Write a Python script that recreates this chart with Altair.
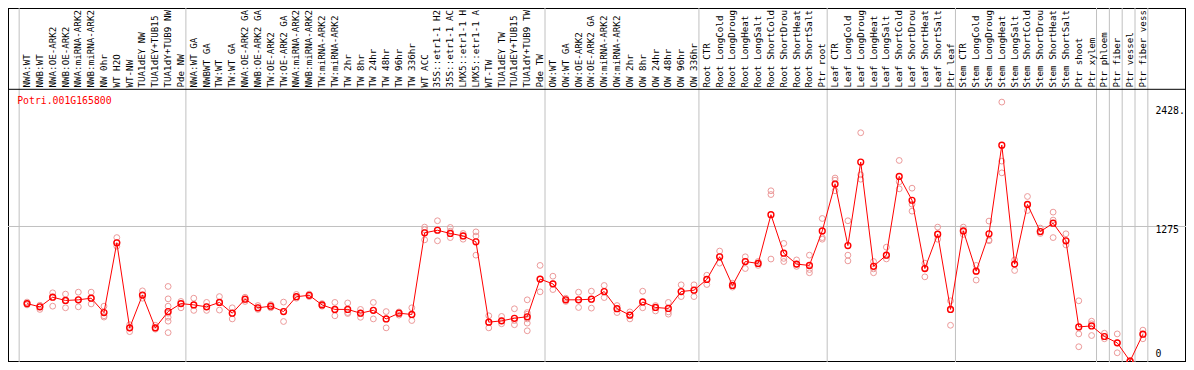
import altair as alt
import pandas as pd

gene_id = "Potri.001G165800"

labels = [
    "NWA:WT", "NWB:WT", "NWA:OE-ARK2", "NWB:OE-ARK2", "NWA:miRNA-ARK2", "NWB:miRNA-ARK2",
    "NW 0hr", "WT H2O", "WT-NW", "TUA1dEY NW", "TUA1dEY+TUB15", "TUA1dY+TUB9 NW", "Pde NW",
    "NWA:WT GA", "NWBWT GA", "TW:WT", "TW:WT GA", "NWA:OE-ARK2 GA", "NWB:OE-ARK2 GA",
    "TW:OE-ARK2", "TW:OE-ARK2 GA", "NWA:miRNA-ARK2", "NWB:miRNA-ARK2", "TW:miRNA-ARK2",
    "TW:miRNA-ARK2", "TW 2hr", "TW 8hr", "TW 24hr", "TW 48hr", "TW 96hr", "TW 336hr",
    "WT ACC", "35S::etr1-1 H2", "35S::etr1-1 AC", "LMX5::etr1-1 H", "LMX5::etr1-1 A",
    "WT-TW", "TUA1dEY TW", "TUA1dEY+TUB15", "TUA1dY+TUB9 TW", "Pde TW",
    "OW:WT", "OW:WT GA", "OW:OE-ARK2", "OW:OE-ARK2 GA", "OW:miRNA-ARK2", "OW:miRNA-ARK2",
    "OW 2hr", "OW 8hr", "OW 24hr", "OW 48hr", "OW 96hr", "OW 336hr",
    "Root CTR", "Root LongCold", "Root LongDroug", "Root LongHeat", "Root LongSalt",
    "Root ShortCold", "Root ShortDrou", "Root ShortHeat", "Root ShortSalt", "Ptr root",
    "Leaf CTR", "Leaf LongCold", "Leaf LongDroug", "Leaf LongHeat", "Leaf LongSalt",
    "Leaf ShortCold", "Leaf ShortDrou", "Leaf ShortHeat", "Leaf ShortSalt", "Ptr leaf",
    "Stem CTR", "Stem LongCold", "Stem LongDroug", "Stem LongHeat", "Stem LongSalt",
    "Stem ShortCold", "Stem ShortDrou", "Stem ShortHeat", "Stem ShortSalt",
    "Ptr shoot", "Ptr xylem", "Ptr phloem", "Ptr fiber", "Ptr vessel", "Ptr fiber vess",
]

means = [
    560, 530, 619, 589, 595, 610, 477, 1124, 335, 639, 335, 486, 560,
    548, 530, 571, 471, 601, 521, 536, 486, 624, 637, 548, 506, 506, 471, 498, 418, 471, 459,
    1216, 1240, 1210, 1187, 1133, 388, 400, 424, 438, 787,
    743, 595, 595, 601, 672, 513, 453, 575, 524, 515, 672, 684,
    784, 994, 728, 950, 932, 1384, 1027, 926, 914, 1234,
    1668, 1098, 1872, 906, 1009, 1739, 1518, 885, 1204, 506,
    1234, 861, 1207, 2029, 926, 1479, 1228, 1305, 1142,
    344, 353, 255, 196, 27, 276,
]

replicates = [
    [574, 560, 548], [545, 530, 506], [660, 619, 536], [648, 589, 521], [666, 595, 530],
    [666, 610, 557], [536, 447, 435], [1172, 1124, 1092], [364, 335, 300], [678, 639, 610],
    [359, 335, 323], [719, 604, 536, 471, 433, 397, 291], [580, 560, 521],
    [610, 548, 497], [571, 530, 497], [625, 571, 500], [521, 471, 418], [619, 601, 580],
    [542, 521, 506], [551, 536, 521], [574, 486, 394], [645, 625, 610], [648, 637, 625],
    [560, 548, 536], [571, 506, 447], [566, 477, 468], [506, 471, 433], [571, 497, 418],
    [486, 418, 335], [483, 471, 453], [521, 459, 403],
    [1269, 1245, 1151], [1328, 1245, 1142], [1266, 1231, 1172], [1210, 1186, 1157],
    [1225, 1186, 1009], [447, 388, 335], [441, 400, 373], [512, 403, 364],
    [595, 477, 462, 418, 379, 308], [914, 787, 669],
    [814, 743, 690], [610, 595, 580], [666, 595, 524], [675, 601, 518], [728, 672, 616],
    [542, 512, 477], [483, 453, 418], [675, 574, 521], [542, 524, 492], [571, 483, 462],
    [734, 672, 625], [734, 684, 625],
    [823, 784, 737], [1047, 994, 935], [749, 728, 713], [994, 950, 885], [950, 932, 914],
    [1606, 1571, 973], [1118, 979, 950], [965, 926, 905], [1009, 876, 846], [1349, 1172, 1157],
    [1724, 1704, 1606], [1328, 1009, 956], [2144, 1754, 1713], [950, 882, 846], [1083, 1009, 974],
    [1887, 1689, 1624], [1630, 1482, 1417], [935, 891, 808], [1269, 1204, 1157], [586, 506, 359],
    [1269, 1234, 1201], [914, 861, 778], [1325, 1151, 1142], [2428, 1881, 1772], [965, 926, 867],
    [1553, 1479, 1423], [1260, 1228, 1210], [1408, 1334, 1172], [1207, 1142, 1104],
    [586, 279, 160], [397, 373, 264], [285, 255, 234], [279, 196, 104], [20, 27, 33],
    [314, 276, 234],
]

# index of the last sample in each group (-1 = left edge)
group_last = [-1, 12, 40, 52, 62, 72, 83, 84, 85, 86, 87]

grid_values = [1275]
axis_values = [2428, 1275, 0]
axis_texts = ["2428.", "1275", "0"]

W, H = 1178, 354
FONT = "DejaVu Sans Mono"
RED = "#ff0000"
PINK = "#ec9a9a"
GREY = "#c0c0c0"

xs = alt.Scale(domain=[0, len(labels) - 1], range=[19.04, 1134.9], nice=False, zero=False)
ys = alt.Scale(domain=[0, 2428], range=[356.0, 94.1], nice=False, zero=False)

df_mean = pd.DataFrame({"idx": list(range(len(labels))), "label": labels, "mean": means})
df_rep = pd.DataFrame(
    [{"idx": i, "value": v} for i, reps in enumerate(replicates) for v in reps]
)
df_sep = pd.DataFrame({"pos": [g + 5 / 13 for g in group_last]})
df_grid = pd.DataFrame({"v": grid_values})
df_axis = pd.DataFrame({"v": axis_values, "t": axis_texts})
one = pd.DataFrame({"a": [0]})


def X(f):
    return alt.X(f, scale=xs, axis=None)


def Y(f):
    return alt.Y(f, scale=ys, axis=None)


sep = alt.Chart(df_sep).mark_rule(color=GREY, strokeWidth=1).encode(
    x=X("pos:Q"), y=alt.value(0), y2=alt.value(H)
)
grid = alt.Chart(df_grid).mark_rule(color=GREY, strokeWidth=1).encode(
    y=Y("v:Q"), x=alt.value(0), x2=alt.value(W)
)
header = alt.Chart(one).mark_rule(color="black", strokeWidth=1).encode(
    y=alt.value(81.3), x=alt.value(0), x2=alt.value(W)
)
rep = alt.Chart(df_rep).mark_point(
    shape="circle", filled=False, color=PINK, size=34, strokeWidth=1, opacity=1
).encode(x=X("idx:Q"), y=Y("value:Q"))
line = alt.Chart(df_mean).mark_line(color=RED, strokeWidth=1).encode(
    x=X("idx:Q"), y=Y("mean:Q")
)
pts = alt.Chart(df_mean).mark_point(
    shape="circle", filled=False, color=RED, size=34, strokeWidth=1.4, opacity=1
).encode(x=X("idx:Q"), y=Y("mean:Q"))
lab = alt.Chart(df_mean).mark_text(
    angle=270, align="left", baseline="middle", font=FONT, fontSize=9.2, color="black"
).encode(x=X("idx:Q"), y=alt.value(79.5), text="label:N")
title = alt.Chart(one).mark_text(
    align="left", baseline="middle", font=FONT, fontSize=9.8, color=RED
).encode(x=alt.value(9.2), y=alt.value(92.8), text=alt.value(gene_id))


def axis_label(val, dy):
    return (
        alt.Chart(df_axis)
        .transform_filter(alt.datum.v == val)
        .mark_text(align="left", baseline="middle", dy=dy, font=FONT, fontSize=9.8, color="black")
        .encode(x=alt.value(1147.4), y=Y("v:Q"), text="t:N")
    )


ax1 = axis_label(axis_values[0], 8.6)
ax2 = axis_label(axis_values[1], 3.2)
ax3 = axis_label(axis_values[2], -9.9)

chart = (
    alt.layer(sep, grid, header, rep, line, pts, lab, title, ax1, ax2, ax3)
    .properties(width=W, height=H, autosize=alt.AutoSizeParams(type="none"), padding=0)
    .configure_view(stroke="black", strokeWidth=2)
)

chart.save("out.html", embed_options={"renderer": "svg", "actions": False})
